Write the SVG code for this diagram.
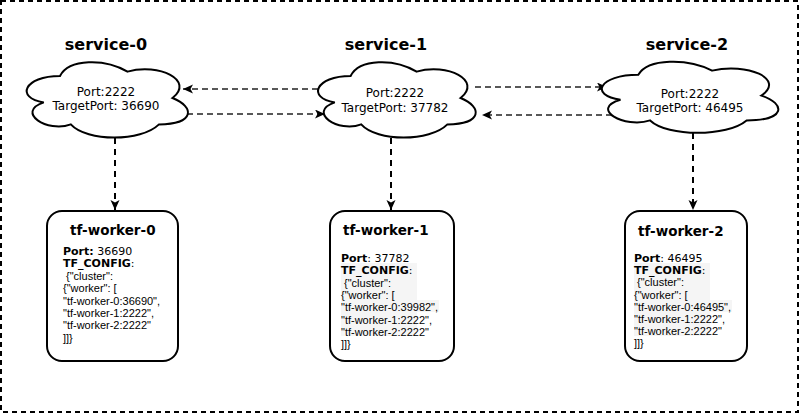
<svg xmlns="http://www.w3.org/2000/svg" width="800" height="414" viewBox="0 0 800 414">
<style>
.title{font-family:"DejaVu Sans",Verdana,sans-serif;font-weight:bold;font-size:16px;fill:#000}
.wtitle{font-family:"DejaVu Sans",Verdana,sans-serif;font-weight:bold;font-size:13.5px;fill:#000}
.ctext{font-family:"DejaVu Sans",Verdana,sans-serif;font-size:12px;fill:#000;text-anchor:middle}
.dv{font-family:"DejaVu Sans",Verdana,sans-serif;font-size:11px;fill:#000}
.b{font-weight:bold}
.ls{font-family:"Liberation Sans",Arial,sans-serif;font-size:11px;fill:#000}
.cloud{fill:#fff;stroke:#000;stroke-width:2}
.box{fill:#fff;stroke:#000;stroke-width:2}
.h{fill:none;stroke:#222;stroke-width:1.6;stroke-dasharray:6 4}
.v{fill:none;stroke:#000;stroke-width:2;stroke-dasharray:6 5}
.hl{fill:#f5f5f5}
</style>
<defs>
<marker id="arr" markerUnits="userSpaceOnUse" markerWidth="12" markerHeight="10" refX="10" refY="4.5" orient="auto">
<path d="M0,0 L10,4.5 L0,9 L2.5,4.5 Z" fill="#000"/>
</marker>
</defs>
<rect x="1" y="1" width="797" height="411" fill="none" stroke="#000" stroke-width="2" stroke-dasharray="5 4"/>

<g id="connectors">
<line class="h" x1="318" y1="89" x2="183" y2="89" marker-end="url(#arr)"/>
<line class="h" x1="187" y1="114" x2="325" y2="114" marker-end="url(#arr)"/>
<line class="h" x1="475" y1="87" x2="607" y2="87" marker-end="url(#arr)"/>
<line class="h" x1="612" y1="115" x2="482" y2="115" marker-end="url(#arr)"/>
<line class="v" x1="115" y1="138" x2="115" y2="210" marker-end="url(#arr)"/>
<line class="v" x1="391" y1="138" x2="391" y2="210" marker-end="url(#arr)"/>
<line class="v" x1="693" y1="133" x2="693" y2="210" marker-end="url(#arr)"/>
</g>

<g id="service-0">
<text class="title" x="106" y="50" text-anchor="middle">service-0</text>
<path class="cloud" d="M60,76 C24,76 15,98 43.8,102.4 C15,112.1 47.4,133.2 70.8,124.4 C87,142 141,142 159,124.4 C195,124.4 195,106.8 172.5,98 C195,80.4 159,62.8 127.5,71.6 C105,58.4 69,58.4 60,76 Z"/>
<text class="ctext" x="106" y="96">Port:2222</text>
<text class="ctext" x="106" y="110">TargetPort: 36690</text>
</g>

<g id="service-1">
<text class="title" x="386" y="50" text-anchor="middle">service-1</text>
<path class="cloud" d="M350.6,76 C315.4,76 306.6,98 334.8,102.4 C306.6,112.1 338.3,133.2 361.2,124.4 C377,142 429.8,142 447.4,124.4 C482.6,124.4 482.6,106.8 460.6,98 C482.6,80.4 447.4,62.8 416.6,71.6 C394.6,58.4 359.4,58.4 350.6,76 Z"/>
<text class="ctext" x="395" y="97">Port:2222</text>
<text class="ctext" x="395" y="112">TargetPort: 37782</text>
</g>

<g id="service-2">
<text class="title" x="687" y="50" text-anchor="middle">service-2</text>
<path class="cloud" d="M638.3,74.8 C598.9,74.8 589,95.5 620.5,99.7 C589,108.8 624.5,128.7 650.1,120.4 C667.8,137 726.9,137 746.6,120.4 C786,120.4 786,103.8 761.4,95.5 C786,78.9 746.6,62.3 712.1,70.6 C687.5,58.2 648.1,58.2 638.3,74.8 Z"/>
<text class="ctext" x="690" y="98">Port:2222</text>
<text class="ctext" x="690" y="112">TargetPort: 46495</text>
</g>

<g id="tf-worker-0">
<rect class="box" x="47" y="211" width="131" height="150" rx="15"/>
<text class="wtitle" x="70" y="235">tf-worker-0</text>
<text class="dv" x="63" y="255"><tspan class="b">Port:</tspan> 36690</text>
<text class="dv" x="63" y="267.4"><tspan class="b">TF_CONFIG</tspan>:</text>
<text class="ls" x="66" y="279.8">{"cluster":</text>
<text class="ls" x="63" y="292.2">{"worker": [</text>
<text class="ls" x="63" y="304.6">"tf-worker-0:36690",</text>
<text class="ls" x="63" y="317">"tf-worker-1:2222",</text>
<text class="ls" x="63" y="329.4">"tf-worker-2:2222"</text>
<text class="ls" x="63" y="341.8">]]}</text>
</g>

<g id="tf-worker-1">
<rect class="box" x="330" y="211" width="124" height="150" rx="15"/>
<rect class="hl" x="341" y="263" width="76" height="73"/>
<rect class="hl" x="417" y="300" width="22" height="12"/>
<text class="wtitle" x="343" y="235">tf-worker-1</text>
<text class="dv" x="341" y="262"><tspan class="b">Port</tspan>: 37782</text>
<text class="dv" x="341" y="274.3"><tspan class="b">TF_CONFIG</tspan>:</text>
<text class="ls" x="344" y="286.6">{"cluster":</text>
<text class="ls" x="341" y="298.9">{"worker": [</text>
<text class="ls" x="341" y="311.2">"tf-worker-0:39982",</text>
<text class="ls" x="341" y="323.5">"tf-worker-1:2222",</text>
<text class="ls" x="341" y="335.8">"tf-worker-2:2222"</text>
<text class="ls" x="341" y="348.1">]]}</text>
</g>

<g id="tf-worker-2">
<rect class="box" x="625" y="211" width="122" height="150" rx="15"/>
<rect class="hl" x="634" y="263" width="76" height="73"/>
<rect class="hl" x="710" y="300" width="22" height="12"/>
<text class="wtitle" x="638" y="236">tf-worker-2</text>
<text class="dv" x="634" y="262"><tspan class="b">Port</tspan>: 46495</text>
<text class="dv" x="634" y="274.2"><tspan class="b">TF_CONFIG</tspan>:</text>
<text class="ls" x="637" y="286.4">{"cluster":</text>
<text class="ls" x="634" y="298.6">{"worker": [</text>
<text class="ls" x="634" y="310.8">"tf-worker-0:46495",</text>
<text class="ls" x="634" y="323">"tf-worker-1:2222",</text>
<text class="ls" x="634" y="335.2">"tf-worker-2:2222"</text>
<text class="ls" x="634" y="347.4">]]}</text>
</g>
</svg>
